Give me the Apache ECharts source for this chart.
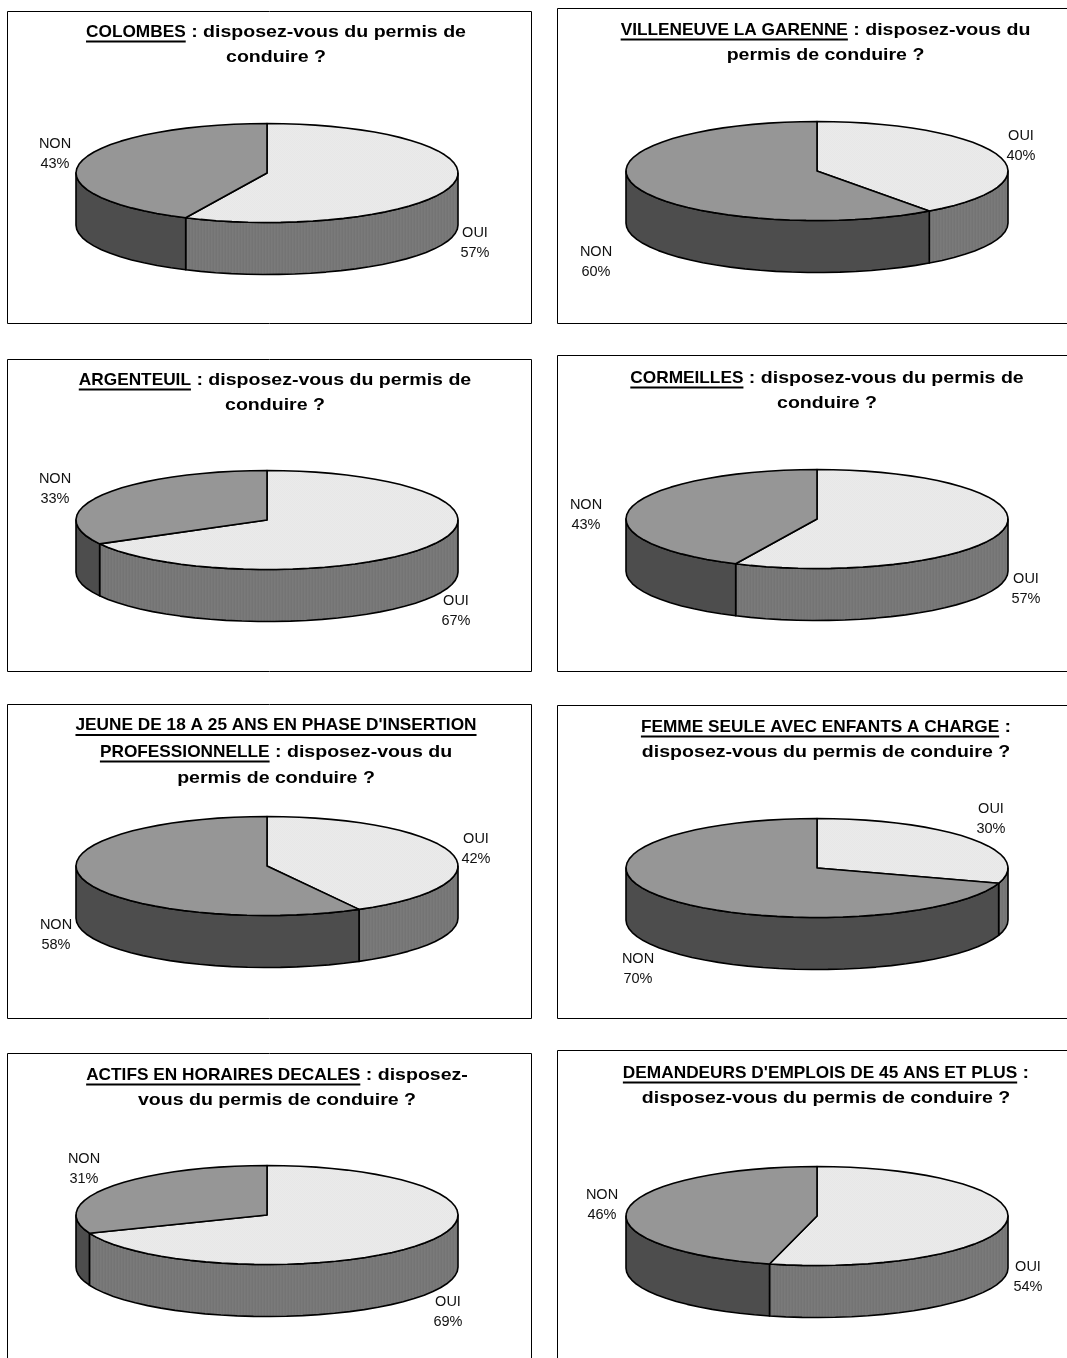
<!DOCTYPE html>
<html>
<head>
<meta charset="utf-8">
<style>html,body{margin:0;padding:0;background:#fff;overflow:hidden}#main{width:1067px;height:1358px}</style>
<script src="https://cdn.jsdelivr.net/npm/echarts@6/dist/echarts.min.js"></script>
</head>
<body>
<div id="main"></div>
<script>
// Share of respondents per group, in percent
const ouiValues = [57, 40, 67, 57, 42, 30, 69, 54];
const nonValues = [43, 60, 33, 43, 58, 70, 31, 46];
const sliceNames = ['OUI', 'NON'];

// Title lines: each segment is [text, underlined]
const titleLines = [
  [[['COLOMBES', 1], [' : disposez-vous du permis de', 0]], [['conduire ?', 0]]],
  [[['VILLENEUVE LA GARENNE', 1], [' : disposez-vous du', 0]], [['permis de conduire ?', 0]]],
  [[['ARGENTEUIL', 1], [' : disposez-vous du permis de', 0]], [['conduire ?', 0]]],
  [[['CORMEILLES', 1], [' : disposez-vous du permis de', 0]], [['conduire ?', 0]]],
  [[["JEUNE DE 18 A 25 ANS EN PHASE D'INSERTION", 1]], [['PROFESSIONNELLE', 1], [' : disposez-vous du', 0]], [['permis de conduire ?', 0]]],
  [[['FEMME SEULE AVEC ENFANTS A CHARGE', 1], [' :', 0]], [['disposez-vous du permis de conduire ?', 0]]],
  [[['ACTIFS EN HORAIRES DECALES', 1], [' : disposez-', 0]], [['vous du permis de conduire ?', 0]]],
  [[["DEMANDEURS D'EMPLOIS DE 45 ANS ET PLUS", 1], [' :', 0]], [['disposez-vous du permis de conduire ?', 0]]]
];

// Panel layout
const frames = [
  [7, 11, 524, 312], [557, 8, 520, 315],
  [7, 359, 524, 312], [557, 355, 520, 316],
  [7, 704, 524, 314], [557, 705, 520, 313],
  [7, 1053, 524, 320], [557, 1050, 520, 320]
];
const titleCenters = [276, 825.5, 275, 827, 276, 826, 277, 826];
const titleTops = [32, 30, 380, 378, 725.5, 727, 1075, 1073];
const titleLeadings = [25, 25, 25, 25, 26.5, 25.5, 25.5, 25.5];
const pieCenters = [
  [267, 173], [817, 171], [267, 520], [817, 519],
  [267, 866], [817, 868], [267, 1215], [817, 1216]
];
const pieRx = 191, pieRy = 49.5, pieDepth = 52;
// Label centres: [OUI x, OUI y, NON x, NON y]
const labelCenters = [
  [475, 243, 55, 154], [1021, 146, 596, 262],
  [456, 611, 55, 489], [1026, 589, 586, 515],
  [476, 849, 56, 935], [991, 819, 638, 969],
  [448, 1312, 84, 1169], [1028, 1277, 602, 1205]
];

const titleFont = 'bold 17px "Liberation Sans", Arial, sans-serif';
const labelFont = '14.5px "Liberation Sans", Arial, sans-serif';
// Horizontal stretch of the title text: plain and underlined runs
const plainStretch = 1.15, underlinedStretch = 1.015;

// Small repeating tiles give the OUI slice its halftone look
function tile(w, h, colors) {
  const cv = document.createElement('canvas');
  cv.width = w; cv.height = h;
  const ctx = cv.getContext('2d');
  for (let y = 0; y < h; y++) {
    for (let x = 0; x < w; x++) {
      ctx.fillStyle = colors[(x + y * (h > 1 ? 1 : 0)) % colors.length];
      ctx.fillRect(x, y, 1, 1);
    }
  }
  return { image: cv, repeat: 'repeat' };
}
const topColors = [tile(2, 2, ['#e7e7e7', '#eaeaea']), '#969696'];
const sideColors = [tile(3, 1, ['#747474', '#7a7a7a', '#777777']), '#4d4d4d'];

const measure = document.createElement('canvas').getContext('2d');
measure.font = titleFont;
const runWidth = function (g) {
  return measure.measureText(g[0]).width * (g[1] ? underlinedStretch : plainStretch);
};

// Frames, titles and their underlines
const graphics = [];
frames.forEach(function (f) {
  graphics.push({
    type: 'rect', silent: true, z: 0,
    shape: { x: f[0] + 0.5, y: f[1] + 0.5, width: f[2], height: f[3] },
    style: { fill: '#fff', stroke: '#000', lineWidth: 1 }
  });
});
titleLines.forEach(function (lines, c) {
  lines.forEach(function (segments, l) {
    const total = segments.reduce(function (s, g) { return s + runWidth(g); }, 0);
    let x = titleCenters[c] - total / 2;
    const y = titleTops[c] + l * titleLeadings[c];
    segments.forEach(function (g) {
      const w = runWidth(g);
      graphics.push({
        type: 'text', silent: true, z: 5, x: x, y: y,
        scaleX: g[1] ? underlinedStretch : plainStretch,
        style: { text: g[0], font: titleFont, fill: '#000', textAlign: 'left', textVerticalAlign: 'middle' }
      });
      if (g[1]) {
        graphics.push({
          type: 'line', silent: true, z: 5,
          shape: { x1: x, y1: y + 9.5, x2: x + w, y2: y + 9.5 },
          style: { stroke: '#000', lineWidth: 2 }
        });
      }
      x += w;
    });
  });
});

const grids = [], xAxes = [], yAxes = [], seriesList = [];
pieCenters.forEach(function (c, i) {
  grids.push({ left: c[0] - pieRx, top: c[1] - pieRy, width: 2 * pieRx, height: 2 * pieRy });
  xAxes.push({ type: 'value', gridIndex: i, min: -1, max: 1, show: false });
  yAxes.push({ type: 'value', gridIndex: i, min: -1, max: 1, show: false });
  const shares = [ouiValues[i], nonValues[i]];
  const sum = shares[0] + shares[1];
  seriesList.push({
    type: 'custom',
    coordinateSystem: 'cartesian2d',
    xAxisIndex: i,
    yAxisIndex: i,
    clip: false,
    silent: true,
    data: shares.map(function (v, k) { return { name: sliceNames[k], value: [0, 0, v, k] }; }),
    renderItem: function (params, api) {
      const k = api.value(3);
      const from = k === 0 ? 0 : shares[0] / sum * 360;
      const to = k === 0 ? shares[0] / sum * 360 : 360;
      const rim = function (deg) {
        const t = deg * Math.PI / 180;
        return api.coord([Math.sin(t), Math.cos(t)]);
      };
      // Rim drawn as short straight facets
      const arc = function (a, b) {
        const pts = [];
        const n = Math.max(2, Math.ceil(Math.abs(b - a) / 5));
        for (let j = 0; j <= n; j++) pts.push(rim(a + (b - a) * j / n));
        return pts;
      };
      const children = [];
      const style = { lineWidth: 1.6, stroke: '#000', lineJoin: 'round' };
      // Side wall: only the part of the slice on the front half of the disc
      const a = Math.max(from, 90), b = Math.min(to, 270);
      if (b > a) {
        const upper = arc(a, b);
        const lower = upper.slice().reverse().map(function (p) { return [p[0], p[1] + pieDepth]; });
        children.push({
          type: 'polygon',
          shape: { points: upper.concat(lower) },
          style: Object.assign({ fill: sideColors[k] }, style)
        });
      }
      // Top face
      children.push({
        type: 'polygon', z2: 2,
        shape: { points: [api.coord([0, 0])].concat(arc(from, to)) },
        style: Object.assign({ fill: topColors[k] }, style)
      });
      // Name and percentage
      children.push({
        type: 'text', z2: 3,
        x: labelCenters[i][k * 2],
        y: labelCenters[i][k * 2 + 1],
        style: {
          text: sliceNames[k] + '\n' + shares[k] + '%',
          font: labelFont, lineHeight: 20.5, fill: '#111',
          align: 'center', verticalAlign: 'middle'
        }
      });
      return { type: 'group', children: children };
    }
  });
});

const chart = echarts.init(document.getElementById('main'), null, { renderer: 'canvas' });
chart.setOption({
  animation: false,
  backgroundColor: '#fff',
  grid: grids,
  xAxis: xAxes,
  yAxis: yAxes,
  graphic: { elements: graphics },
  series: seriesList
});
</script>
</body>
</html>
